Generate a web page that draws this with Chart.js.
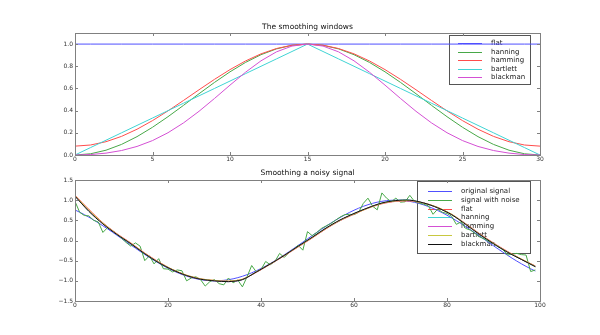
<!DOCTYPE html>
<html>
<head>
<meta charset="utf-8">
<script src="https://cdn.jsdelivr.net/npm/chart.js@4/dist/chart.umd.min.js"></script>
<style>
  html, body { margin: 0; padding: 0; background: #fff; }
  #wrap { position: relative; width: 600px; height: 335px; }
  canvas { position: absolute; left: 0; }
</style>
</head>
<body>
<div id="wrap">
  <canvas id="topChart" width="600" height="167" style="top:0"></canvas>
  <canvas id="bottomChart" width="600" height="168" style="top:167px"></canvas>
</div>
<script>
// ---- top plot: the smoothing windows (31 samples) ----
const winX = [0, 1, 2, 3, 4, 5, 6, 7, 8, 9, 10, 11, 12, 13, 14, 15, 16, 17, 18, 19, 20, 21, 22, 23, 24, 25, 26, 27, 28, 29, 30];
const flatWin = [1, 1, 1, 1, 1, 1, 1, 1, 1, 1, 1, 1, 1, 1, 1, 1, 1, 1, 1, 1, 1, 1, 1, 1, 1, 1, 1, 1, 1, 1, 1];
const hanningWin = [0, 0.0109, 0.0432, 0.0955, 0.1654, 0.25, 0.3455, 0.4477, 0.5523, 0.6545, 0.75, 0.8346, 0.9045, 0.9568, 0.9891, 1,
  0.9891, 0.9568, 0.9045, 0.8346, 0.75, 0.6545, 0.5523, 0.4477, 0.3455, 0.25, 0.1654, 0.0955, 0.0432, 0.0109, 0];
const hammingWin = [0.08, 0.0901, 0.1198, 0.1679, 0.2322, 0.31, 0.3979, 0.4919, 0.5881, 0.6821, 0.77, 0.8478, 0.9122, 0.9602, 0.9899, 1,
  0.9899, 0.9602, 0.9122, 0.8478, 0.77, 0.6821, 0.5881, 0.4919, 0.3979, 0.31, 0.2322, 0.1679, 0.1198, 0.0901, 0.08];
const bartlettWin = [0, 0.0667, 0.1333, 0.2, 0.2667, 0.3333, 0.4, 0.4667, 0.5333, 0.6, 0.6667, 0.7333, 0.8, 0.8667, 0.9333, 1,
  0.9333, 0.8667, 0.8, 0.7333, 0.6667, 0.6, 0.5333, 0.4667, 0.4, 0.3333, 0.2667, 0.2, 0.1333, 0.0667, 0];
const blackmanWin = [0, 0.004, 0.0168, 0.0402, 0.0771, 0.13, 0.2008, 0.2895, 0.394, 0.5098, 0.63, 0.7462, 0.8492, 0.9303, 0.9821, 1,
  0.9821, 0.9303, 0.8492, 0.7462, 0.63, 0.5098, 0.394, 0.2895, 0.2008, 0.13, 0.0771, 0.0402, 0.0168, 0.004, 0];
const windowNames = ['flat', 'hanning', 'hamming', 'bartlett', 'blackman'];
const topXTicks = [0, 5, 10, 15, 20, 25, 30];
const topYTicks = [0, 0.2, 0.4, 0.6, 0.8, 1.0];

// ---- bottom plot: noisy signal and smoothed versions ----
const originalSignal = [0.7568, 0.7016, 0.6417, 0.5779, 0.5101, 0.4389, 0.3650, 0.2886, 0.2104, 0.1307,
  0.0503, -0.0305, -0.1111, -0.1909, -0.2695, -0.3464, -0.4210, -0.4928, -0.5614, -0.6267,
  -0.6873, -0.7438, -0.7951, -0.8416, -0.8820, -0.9174, -0.9465, -0.9697, -0.9863, -0.9963,
  -1.0000, -0.9971, -0.9878, -0.9719, -0.9499, -0.9214, -0.8869, -0.8472, -0.8012, -0.7502,
  -0.6946, -0.6341, -0.5696, -0.5015, -0.4299, -0.3557, -0.2790, -0.2006, -0.1209, -0.0404,
  0.0404, 0.1209, 0.2006, 0.2790, 0.3557, 0.4299, 0.5015, 0.5696, 0.6341, 0.6946,
  0.7502, 0.8012, 0.8472, 0.8869, 0.9214, 0.9499, 0.9719, 0.9878, 0.9971, 1.0000,
  0.9963, 0.9863, 0.9697, 0.9465, 0.9174, 0.8820, 0.8416, 0.7951, 0.7438, 0.6873,
  0.6267, 0.5614, 0.4928, 0.4210, 0.3464, 0.2695, 0.1909, 0.1111, 0.0305, -0.0503,
  -0.1307, -0.2104, -0.2886, -0.3650, -0.4389, -0.5101, -0.5779, -0.6417, -0.7016, -0.7568];
const noisySignal = [0.97, 0.70, 0.62, 0.61, 0.50, 0.46, 0.20, 0.32, 0.25, 0.16,
  0.06, -0.05, -0.14, -0.06, -0.14, -0.50, -0.38, -0.58, -0.45, -0.70,
  -0.71, -0.78, -0.73, -0.75, -1.00, -0.93, -0.90, -0.97, -1.13, -1.02,
  -0.97, -1.07, -1.10, -0.93, -1.05, -0.98, -1.15, -0.90, -0.62, -0.78,
  -0.72, -0.52, -0.60, -0.52, -0.32, -0.42, -0.30, -0.22, -0.12, -0.24,
  0.22, 0.12, 0.20, 0.30, 0.36, 0.42, 0.50, 0.58, 0.64, 0.65,
  0.64, 0.70, 0.92, 1.05, 0.85, 0.76, 1.18, 1.05, 0.96, 1.05,
  0.95, 0.96, 1.12, 0.97, 0.93, 0.90, 0.86, 0.65, 0.78, 0.70,
  0.67, 0.60, 0.40, 0.46, 0.30, 0.26, 0.18, 0.09, 0.04, -0.03,
  -0.07, -0.16, -0.22, -0.36, -0.34, -0.32, -0.35, -0.36, -0.77, -0.73];
// smoothed curves, read every 3rd sample
const smoothX = [0, 3, 6, 9, 12, 15, 18, 21, 24, 27, 30, 33, 36, 39, 42, 45, 48, 51, 54, 57, 60, 63, 66, 69, 72, 75, 78, 81, 84, 87, 90, 93, 96, 99];
const smoothFlat = [1.12, 0.77, 0.44, 0.17, -0.06, -0.31, -0.53, -0.72, -0.86, -0.95, -0.99, -1.01, -0.96, -0.79, -0.59, -0.38, -0.16,
  0.06, 0.29, 0.49, 0.65, 0.80, 0.91, 0.97, 0.98, 0.93, 0.82, 0.65, 0.42, 0.17, -0.06, -0.27, -0.46, -0.63];
const smoothHanning = [1.10, 0.73, 0.42, 0.15, -0.08, -0.33, -0.55, -0.73, -0.87, -0.96, -1.00, -1.02, -0.97, -0.78, -0.58, -0.37, -0.14,
  0.08, 0.31, 0.50, 0.67, 0.81, 0.93, 0.99, 1.00, 0.93, 0.81, 0.64, 0.41, 0.15, -0.08, -0.29, -0.47, -0.65];
const smoothHamming = [1.10, 0.74, 0.42, 0.16, -0.07, -0.32, -0.54, -0.73, -0.87, -0.96, -1.00, -1.02, -0.97, -0.78, -0.58, -0.37, -0.15,
  0.07, 0.30, 0.50, 0.66, 0.81, 0.92, 0.98, 0.99, 0.93, 0.81, 0.64, 0.41, 0.16, -0.07, -0.28, -0.47, -0.64];
const smoothBartlett = [1.11, 0.75, 0.43, 0.16, -0.07, -0.32, -0.54, -0.72, -0.86, -0.95, -0.99, -1.01, -0.96, -0.78, -0.58, -0.37, -0.15,
  0.07, 0.30, 0.50, 0.66, 0.80, 0.92, 0.98, 0.99, 0.93, 0.82, 0.65, 0.41, 0.16, -0.07, -0.28, -0.46, -0.64];
const smoothBlackman = [1.10, 0.72, 0.41, 0.15, -0.08, -0.33, -0.55, -0.73, -0.87, -0.96, -1.00, -1.02, -0.97, -0.78, -0.58, -0.37, -0.14,
  0.08, 0.31, 0.51, 0.67, 0.81, 0.93, 0.99, 1.00, 0.93, 0.81, 0.64, 0.40, 0.15, -0.08, -0.29, -0.47, -0.65];
const signalNames = ['original signal', 'signal with noise', 'flat', 'hanning', 'hamming', 'bartlett', 'blackman'];
const bottomXTicks = [0, 20, 40, 60, 80, 100];
const bottomYTicks = [-1.5, -1.0, -0.5, 0.0, 0.5, 1.0, 1.5];

// old matplotlib colour cycle b g r c m y k
const colors = ['#5050ff', '#48a848', '#ff4c4c', '#40d4d4', '#d450d4', '#c8c840', '#111111'];

const FONT = '"DejaVu Sans", "Bitstream Vera Sans", sans-serif';

function pts(xs, ys) {
  return ys.map((v, i) => ({ x: xs[i], y: v }));
}

function fmtY(v) {
  return (v < 0 ? '\u2212' : '') + Math.abs(v).toFixed(1);
}

// frame, inward ticks, title and boxed legend like the old pylab look
const pylabFrame = {
  id: 'pylabFrame',
  beforeDatasetsDraw(chart, args, opts) {
    const ctx = chart.ctx;
    const area = chart.chartArea;
    const lg = opts.legend;
    const right = area.right - lg.offRight;
    const left = right - lg.width;
    const top = area.top + lg.offTop;
    ctx.save();
    ctx.lineWidth = 1;
    ctx.strokeStyle = '#555';
    ctx.strokeRect(Math.round(left) + 0.5, Math.round(top) + 0.5, lg.width, lg.height);
    ctx.font = '7px ' + FONT;
    ctx.textBaseline = 'middle';
    lg.labels.forEach((label, k) => {
      const y = Math.round(top + lg.firstRow + k * lg.rowH) + 0.5;
      ctx.strokeStyle = lg.colors[k];
      ctx.beginPath();
      ctx.moveTo(left + lg.lineX0, y);
      ctx.lineTo(left + lg.lineX1, y);
      ctx.stroke();
      ctx.fillStyle = '#222';
      ctx.fillText(label, left + lg.textX, y);
    });
    ctx.restore();
  },
  afterDatasetsDraw(chart, args, opts) {
    const ctx = chart.ctx;
    const a = chart.chartArea;
    const xs = chart.scales.x;
    const ys = chart.scales.y;
    ctx.save();
    ctx.strokeStyle = '#808080';
    ctx.lineWidth = 1;
    ctx.strokeRect(Math.round(a.left) + 0.5, Math.round(a.top) + 0.5, Math.round(a.right - a.left), Math.round(a.bottom - a.top));
    ctx.beginPath();
    xs.ticks.forEach(t => {
      const px = Math.round(xs.getPixelForValue(t.value)) + 0.5;
      ctx.moveTo(px, a.bottom); ctx.lineTo(px, a.bottom - 3);
      ctx.moveTo(px, a.top); ctx.lineTo(px, a.top + 3);
    });
    ys.ticks.forEach(t => {
      const py = Math.round(ys.getPixelForValue(t.value)) + 0.5;
      ctx.moveTo(a.left, py); ctx.lineTo(a.left + 3, py);
      ctx.moveTo(a.right, py); ctx.lineTo(a.right - 3, py);
    });
    ctx.stroke();
    ctx.fillStyle = '#111';
    ctx.font = '7.5px ' + FONT;
    ctx.textAlign = 'center';
    ctx.textBaseline = 'middle';
    ctx.fillText(opts.title, (a.left + a.right) / 2, a.top - opts.titleGap);
    ctx.restore();
  }
};

function makeChart(id, datasets, cfg) {
  return new Chart(document.getElementById(id), {
    type: 'line',
    data: { datasets: datasets },
    options: {
      responsive: false,
      animation: false,
      devicePixelRatio: 1,
      events: [],
      layout: { padding: { top: cfg.padTop, right: 60, left: 0, bottom: 0 } },
      elements: { point: { radius: 0 }, line: { borderWidth: 1, tension: 0 } },
      plugins: {
        legend: { display: false },
        tooltip: { enabled: false },
        title: { display: false },
        pylabFrame: { title: cfg.title, titleGap: cfg.titleGap, legend: cfg.legend }
      },
      scales: {
        x: {
          type: 'linear',
          min: cfg.xMin, max: cfg.xMax,
          afterBuildTicks: s => { s.ticks = cfg.xTicks.map(v => ({ value: v })); },
          afterFit: s => { s.height = cfg.xH; },
          grid: { display: false, drawTicks: false },
          border: { display: false },
          ticks: { font: { family: FONT, size: 6 }, color: '#333', padding: 1, maxRotation: 0, autoSkip: false,
            callback: v => String(v) }
        },
        y: {
          min: cfg.yMin, max: cfg.yMax,
          afterBuildTicks: s => { s.ticks = cfg.yTicks.map(v => ({ value: v })); },
          afterFit: s => { s.width = 75; },
          grid: { display: false, drawTicks: false },
          border: { display: false },
          ticks: { font: { family: FONT, size: 6 }, color: '#333', padding: 2, autoSkip: false,
            callback: v => fmtY(v) }
        }
      }
    },
    plugins: [pylabFrame]
  });
}

// top chart
const topSeries = [flatWin, hanningWin, hammingWin, bartlettWin, blackmanWin];
const topSets = topSeries.map((ys, i) => ({
  label: windowNames[i],
  data: pts(winX, ys),
  borderColor: colors[i],
  order: -i
}));
makeChart('topChart', topSets, {
  padTop: 33, xH: 12, xMin: 0, xMax: 30, yMin: 0, yMax: 1.1,
  xTicks: topXTicks, yTicks: topYTicks,
  title: 'The smoothing windows', titleGap: 6,
  legend: { labels: windowNames, colors: colors.slice(0, 5), width: 81, height: 49, offRight: 10, offTop: 2,
    lineX0: 9, lineX1: 33, textX: 42, firstRow: 8, rowH: 8.6 }
});

// bottom chart
const sampleX = originalSignal.map((v, i) => i);
const smoothSeries = [smoothFlat, smoothHanning, smoothHamming, smoothBartlett, smoothBlackman];
const bottomSets = [
  { label: signalNames[0], data: pts(sampleX, originalSignal), borderColor: colors[0], order: 0 },
  { label: signalNames[1], data: pts(sampleX, noisySignal), borderColor: colors[1], order: -1 }
].concat(smoothSeries.map((ys, i) => ({
  label: signalNames[i + 2],
  data: pts(smoothX, ys),
  borderColor: colors[i + 2],
  tension: 0.3,
  order: -(i + 2)
})));
makeChart('bottomChart', bottomSets, {
  padTop: 13, xH: 34, xMin: 0, xMax: 100, yMin: -1.5, yMax: 1.5,
  xTicks: bottomXTicks, yTicks: bottomYTicks,
  title: 'Smoothing a noisy signal', titleGap: 7,
  legend: { labels: signalNames, colors: colors, width: 113, height: 72, offRight: 10, offTop: 1,
    lineX0: 11, lineX1: 35, textX: 44, firstRow: 9.7, rowH: 8.9 }
});
</script>
</body>
</html>
